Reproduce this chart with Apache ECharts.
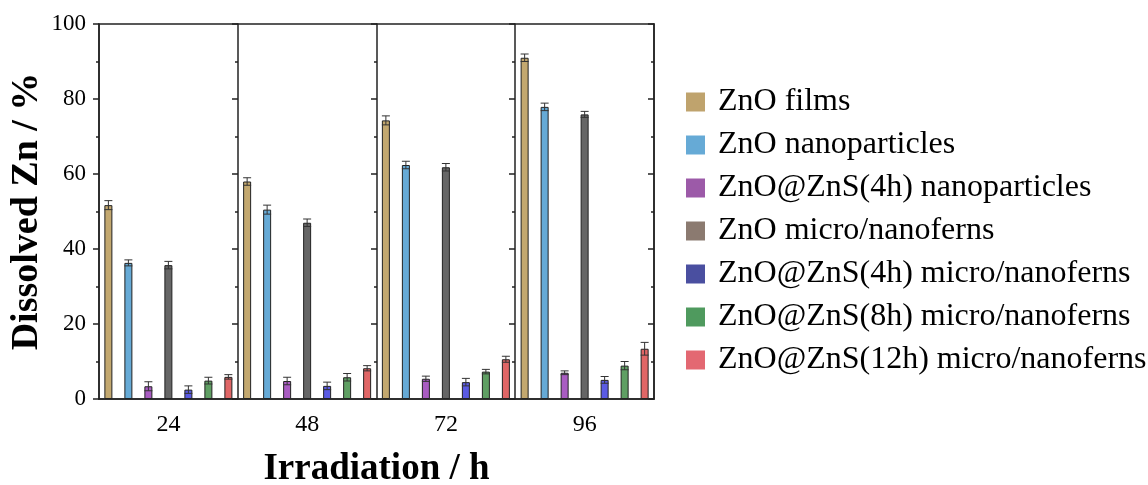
<!DOCTYPE html>
<html><head><meta charset="utf-8">
<script src="https://cdn.jsdelivr.net/npm/echarts@6/dist/echarts.min.js"></script>
<style>html,body{margin:0;padding:0;background:#fff}#c{width:1148px;height:485px}</style>
</head><body><div id="c"></div>
<script>
const categories = ['24', '48', '72', '96'];
const seriesNames = ['ZnO films', 'ZnO nanoparticles', 'ZnO@ZnS(4h) nanoparticles', 'ZnO micro/nanoferns', 'ZnO@ZnS(4h) micro/nanoferns', 'ZnO@ZnS(8h) micro/nanoferns', 'ZnO@ZnS(12h) micro/nanoferns'];
const znoFilms = [51.7, 58.0, 74.3, 91.0];
const znoNanoparticles = [36.3, 50.5, 62.4, 77.9];
const znsNano4h = [3.4, 4.8, 5.4, 7.0];
const znoMicroFerns = [35.7, 47.0, 61.8, 75.9];
const znsFerns4h = [2.5, 3.5, 4.5, 5.1];
const znsFerns8h = [4.9, 5.8, 7.3, 8.9];
const znsFerns12h = [5.9, 8.2, 10.6, 13.4];
const errFilms = [1.2, 1.0, 1.2, 1.0];
const errNanoparticles = [0.8, 1.2, 1.0, 1.0];
const errNano4h = [1.2, 1.0, 0.7, 0.5];
const errMicroFerns = [1.0, 1.0, 1.0, 0.8];
const errFerns4h = [1.0, 1.0, 1.0, 0.9];
const errFerns8h = [0.9, 1.0, 0.6, 1.1];
const errFerns12h = [0.6, 0.7, 0.8, 1.7];
const yTicks = [0, 20, 40, 60, 80, 100];

const values = [znoFilms, znoNanoparticles, znsNano4h, znoMicroFerns, znsFerns4h, znsFerns8h, znsFerns12h];
const errors = [errFilms, errNanoparticles, errNano4h, errMicroFerns, errFerns4h, errFerns8h, errFerns12h];
const barColors = ['#C3A86F', '#66AAD6', '#A95CC2', '#666666', '#5B5BE3', '#5F9F63', '#E06666'];
const legendColors = ['#BFA36D', '#66AAD6', '#9C5AA8', '#8B7A70', '#4A4FA0', '#4F9A5E', '#E36872'];
const FONT = 'Liberation Serif';
const BW = 8, STEP = 20;

const series = [];
values.forEach((vals, i) => {
  series.push({
    name: seriesNames[i], type: 'bar', data: vals, barWidth: BW, barGap: ((STEP - BW) / BW * 100) + '%',
    itemStyle: { color: barColors[i], borderColor: '#222', borderWidth: 1 },
    xAxisIndex: 0, yAxisIndex: 0, z: 2
  });
});
values.forEach((vals, i) => {
  series.push({
    type: 'custom', xAxisIndex: 0, yAxisIndex: 0, z: 5, silent: true,
    data: vals.map((v, k) => [k, v, errors[i][k]]),
    renderItem: function (params, api) {
      const k = api.value(0), v = api.value(1), e = api.value(2);
      const off = (i - 3) * STEP;
      const top = api.coord([k, v + e]);
      const bot = api.coord([k, v - e]);
      const x = top[0] + off;
      const hw = 4;
      const st = { stroke: '#333', lineWidth: 1 };
      return { type: 'group', children: [
        { type: 'line', shape: { x1: x, y1: top[1], x2: x, y2: bot[1] }, style: st },
        { type: 'line', shape: { x1: x - hw, y1: top[1], x2: x + hw, y2: top[1] }, style: st },
        { type: 'line', shape: { x1: x - hw, y1: bot[1], x2: x + hw, y2: bot[1] }, style: st }
      ]};
    }
  });
});

const rightAxis = (off) => ({
  type: 'value', min: 0, max: 100, interval: 20, position: 'right', offset: off,
  axisLine: { show: true, lineStyle: { color: '#222', width: 1.5 } },
  axisTick: { show: true, inside: true, length: 6, lineStyle: { color: '#222', width: 1.5 } },
  minorTick: { show: true, splitNumber: 2, length: 3, lineStyle: { color: '#222', width: 1.5 } },
  axisLabel: { show: false }, splitLine: { show: false }
});

const option = {
  backgroundColor: '#fff',
  animation: false,
  grid: { left: 99, top: 24, right: 494, bottom: 86, show: true, borderColor: '#222', borderWidth: 1.5, outerBoundsMode: 'none', containLabel: false },
  legend: {
    orient: 'vertical', left: 681, top: 81, itemWidth: 19, itemHeight: 19, itemGap: 11,
    icon: 'rect',
    textStyle: { fontFamily: FONT, fontSize: 32, color: '#000', lineHeight: 32, padding: [0, 0, 0, 8] },
    data: seriesNames.map((n, i) => ({ name: n, itemStyle: { color: legendColors[i], borderWidth: 0 } }))
  },
  xAxis: [{
    type: 'category', data: categories, position: 'bottom',
    axisLine: { show: true, lineStyle: { color: '#222', width: 1.5 } },
    axisTick: { show: false },
    axisLabel: { fontFamily: FONT, fontSize: 24, color: '#000', margin: 14 },
    splitLine: { show: false },
    name: 'Irradiation / h', nameLocation: 'middle', nameGap: 52, nameMoveOverlap: false,
    nameTextStyle: { fontFamily: FONT, fontSize: 37, fontWeight: 'bold', color: '#000' }
  }],
  yAxis: [{
    type: 'value', min: yTicks[0], max: yTicks[yTicks.length - 1], interval: 20, position: 'left',
    axisLine: { show: true, lineStyle: { color: '#222', width: 1.5 } },
    axisTick: { show: true, inside: false, length: 6, lineStyle: { color: '#222', width: 1.5 } },
    minorTick: { show: true, splitNumber: 2, length: 3, lineStyle: { color: '#222', width: 1.5 } },
    axisLabel: { fontFamily: FONT, fontSize: 23, color: '#000', margin: 13 },
    splitLine: { show: false },
    name: 'Dissolved Zn / %', nameLocation: 'middle', nameGap: 53, nameMoveOverlap: false,
    nameTextStyle: { fontFamily: FONT, fontSize: 38, fontWeight: 'bold', color: '#000' }
  }, rightAxis(0), rightAxis(-139), rightAxis(-277), rightAxis(-416)],
  series: series
};
const chart = echarts.init(document.getElementById('c'), null, { renderer: 'canvas' });
chart.setOption(option);
</script></body></html>
